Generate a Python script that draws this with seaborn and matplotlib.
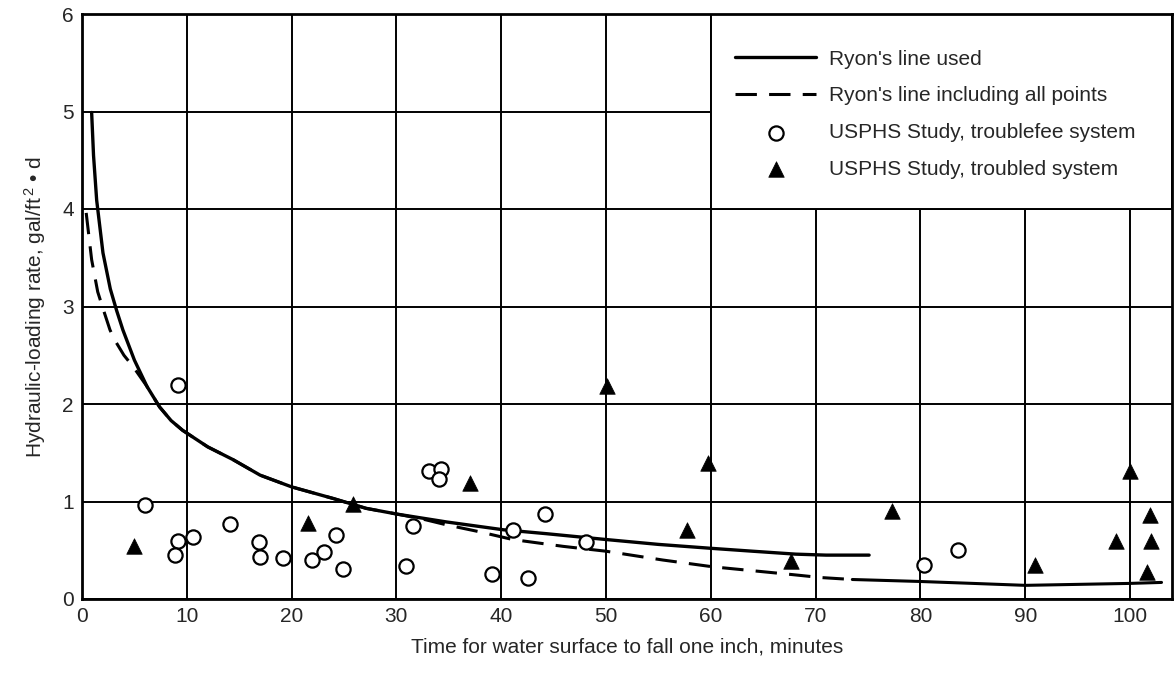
import numpy as np
import pandas as pd
import matplotlib
matplotlib.use('Agg')
import matplotlib.pyplot as plt
import seaborn as sns
from matplotlib.patches import Rectangle

# USPHS study, trouble-free systems (open circles)
free_t=[9.2,6.0,9.2,8.9,10.6,14.1,16.9,17.0,19.2,21.9,23.1,24.2,24.9,
        33.1,34.3,34.1,31.6,30.9,39.1,41.1,44.2,42.6,48.1,80.3,83.6]
free_q=[2.19,0.96,0.60,0.45,0.64,0.77,0.58,0.43,0.42,0.40,0.48,0.66,0.31,
        1.31,1.33,1.23,0.75,0.34,0.26,0.71,0.87,0.22,0.58,0.35,0.50]

# USPHS study, troubled systems (filled triangles)
trbl_t=[5.0,21.6,25.9,37.0,50.1,59.7,57.7,67.6,77.3,90.9,98.7,100.0,101.9,102.0,101.6]
trbl_q=[0.54,0.78,0.97,1.19,2.18,1.39,0.71,0.39,0.90,0.35,0.60,1.31,0.86,0.59,0.28]

# Ryon's line used
ryon_t=[0.92,1.1,1.4,2.0,2.7,3.3,3.9,5.0,6.2,7.4,8.5,9.6,12.0,14.4,17.0,20.0,24.0,27.1,30.1,34.8,40.2,44.3,50.0,55.0,60.0,64.0,68.1,71.0,75.1]
ryon_q=[4.99,4.55,4.09,3.55,3.18,2.96,2.76,2.45,2.18,1.97,1.83,1.73,1.56,1.43,1.27,1.15,1.03,0.93,0.87,0.79,0.71,0.67,0.61,0.56,0.52,0.49,0.46,0.45,0.45]

# Ryon's line including all points (dashed part)
all_t=[0.4,0.92,1.5,2.0,2.67,3.1,4.0,4.9,6.2,7.4,8.5,9.6,12.0,14.4,17.0,20.0,24.0,27.1,30.1,32.5,34.8,37.9,41.1,45.9,50.0,55.4,60.2,64.0,67.8,70.5,73.5]
all_q=[3.96,3.48,3.15,2.98,2.76,2.66,2.50,2.38,2.18,1.97,1.83,1.73,1.56,1.43,1.27,1.15,1.03,0.93,0.87,0.82,0.76,0.69,0.61,0.54,0.49,0.40,0.33,0.29,0.25,0.22,0.20]
# ...its solid tail
tail_t=[73.5,79.9,85.0,90.0,95.0,100.0,103.0]
tail_q=[0.20,0.18,0.16,0.14,0.15,0.16,0.17]

sns.set_style('white')
plt.rcParams['font.family']=['Liberation Sans','DejaVu Sans']
plt.rcParams['mathtext.fontset']='custom'
plt.rcParams['mathtext.rm']='Liberation Sans'
plt.rcParams['mathtext.it']='Liberation Sans'

fig=plt.figure(figsize=(11.74,6.73),dpi=100)
ax=fig.add_axes([82/1174,74/673,1090/1174,585/673])

df_free=pd.DataFrame({'t':free_t,'q':free_q})
df_trbl=pd.DataFrame({'t':trbl_t,'q':trbl_q})

sns.lineplot(x=ryon_t,y=ryon_q,ax=ax,color='black',lw=2.4,sort=False,
             label="Ryon's line used",zorder=3)
sns.lineplot(x=all_t,y=all_q,ax=ax,color='black',lw=2.2,sort=False,
             label="Ryon's line including all points",zorder=3)
ax.lines[-1].set_dashes([7,4])
sns.lineplot(x=tail_t,y=tail_q,ax=ax,color='black',lw=2.2,sort=False,zorder=3)
sns.scatterplot(data=df_free,x='t',y='q',ax=ax,marker='o',s=105,facecolor='white',
                edgecolor='black',linewidth=1.6,label='USPHS Study, troublefee system',zorder=4)
sns.scatterplot(data=df_trbl,x='t',y='q',ax=ax,marker='^',s=125,color='black',
                edgecolor='black',linewidth=0.5,label='USPHS Study, troubled system',zorder=4)

ax.set_xlim(0,104)
ax.set_ylim(0,6)
ax.set_xticks(range(0,101,10))
ax.set_yticks(range(0,7))
ax.grid(True,color='black',lw=1.4)
ax.set_axisbelow(True)
# blank panel behind the legend, its edges redraw the grid lines
ax.add_patch(Rectangle((60,4),44,2,facecolor='white',edgecolor='black',lw=1.4,zorder=1))
for s in ax.spines.values():
    s.set_visible(True)
    s.set_color('black')
    s.set_linewidth(2)
ax.tick_params(length=0,labelsize=15,pad=6)
ax.set_xlabel('Time for water surface to fall one inch, minutes',fontsize=15,labelpad=8)
ax.set_ylabel('Hydraulic-loading rate, gal/ft$^{\\,2}$ • d',fontsize=15,labelpad=10)

leg=ax.legend(loc='upper left',bbox_to_anchor=(0.599,0.939),frameon=False,fontsize=15,
              handlelength=3.9,handletextpad=0.62,labelspacing=0.85,borderpad=0,borderaxespad=0)
leg.set_zorder(5)

fig.savefig('out.png',dpi=100)
